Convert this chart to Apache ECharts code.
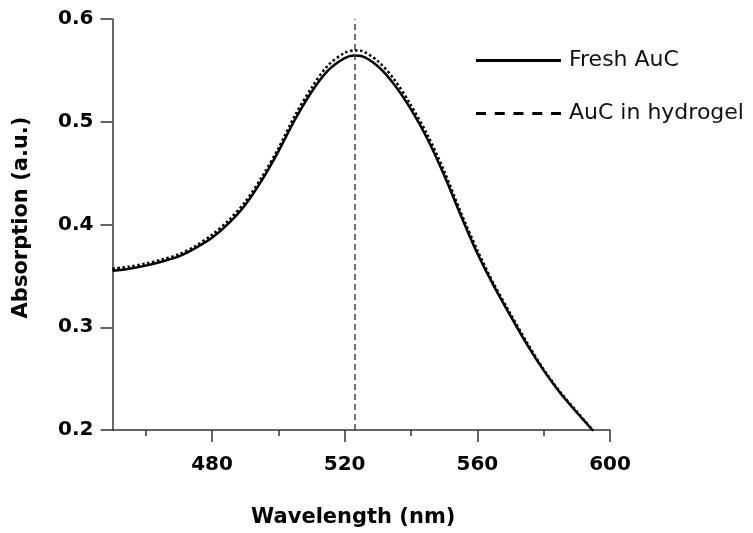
<!DOCTYPE html>
<html>
<head>
<meta charset="utf-8">
<script src="https://cdn.jsdelivr.net/npm/echarts@6/dist/echarts.min.js"></script>
<style>
html,body{margin:0;padding:0;background:#fff;}
#chart{width:753px;height:533px;}
</style>
</head>
<body>
<div id="chart"></div>
<script>
const wavelengths = [450,455,460,465,470,475,480,485,490,495,500,505,510,515,520,523,525,530,535,540,545,550,555,560,565,570,575,580,585,590,595];
const freshAuC = [0.355,0.357,0.360,0.364,0.369,0.377,0.387,0.401,0.419,0.443,0.471,0.502,0.529,0.550,0.562,0.5645,0.564,0.554,0.536,0.512,0.483,0.448,0.409,0.372,0.340,0.311,0.283,0.258,0.236,0.217,0.199];
const auCHydrogel = [0.357,0.359,0.362,0.366,0.371,0.379,0.390,0.404,0.422,0.446,0.474,0.506,0.533,0.555,0.567,0.5695,0.569,0.559,0.541,0.516,0.487,0.452,0.412,0.375,0.342,0.313,0.285,0.259,0.237,0.218,0.199];
const peakWavelength = 523;
const xMajorTicks = [480,520,560,600];
const xMinorTicks = [460,500,540,580];
const seriesNames = ['Fresh AuC','AuC in hydrogel'];

const toPairs = (ys) => wavelengths.map((x,i)=>[x, ys[i]]);
const axisColor = '#333';
const boldFont = 'DejaVu Sans';
const solidIcon = 'path://M0,0h85v3h-85z';
const dashedIcon = 'path://M0,0h10v3h-10z M18.75,0h10v3h-10z M37.5,0h10v3h-10z M56.25,0h10v3h-10z M75,0h10v3h-10z';

const chart = echarts.init(document.getElementById('chart'), null, {renderer:'canvas'});
chart.setOption({
  animation:false,
  backgroundColor:'#fff',
  grid:{left:112.5, right:143, top:19, bottom:101, containLabel:false},
  legend:{
    orient:'vertical', left:471, top:44, itemWidth:85, itemHeight:3, itemGap:30,
    textStyle:{fontFamily:boldFont, fontSize:22, color:'#111', lineHeight:23, padding:[0,0,0,3]},
    data:[
      {name:seriesNames[0], icon:solidIcon, itemStyle:{color:'#000'}},
      {name:seriesNames[1], icon:dashedIcon, itemStyle:{color:'#000'}}
    ]
  },
  xAxis:[{
    type:'value', min:450, max:600, position:'bottom',
    name:'Wavelength (nm)', nameLocation:'middle', nameGap:77,
    nameTextStyle:{fontFamily:boldFont, fontWeight:'bold', fontSize:21, color:'#000', padding:[0,16,0,0]},
    axisLine:{show:true, lineStyle:{color:axisColor, width:1.5}},
    axisTick:{show:true, inside:false, length:12, customValues:xMajorTicks, lineStyle:{color:axisColor, width:1.5}},
    axisLabel:{show:true, customValues:xMajorTicks, margin:25, fontFamily:boldFont, fontWeight:'bold', fontSize:20, color:'#000'},
    splitLine:{show:false}
  },{
    type:'value', min:450, max:600, position:'bottom',
    axisLine:{show:false},
    axisTick:{show:true, inside:false, length:6, customValues:xMinorTicks, lineStyle:{color:axisColor, width:1.5}},
    axisLabel:{show:false},
    splitLine:{show:false}
  }],
  yAxis:{
    type:'value', min:0.2, max:0.6, interval:0.1,
    name:'Absorption (a.u.)', nameLocation:'middle', nameRotate:90, nameGap:80,
    nameTextStyle:{fontFamily:boldFont, fontWeight:'bold', fontSize:21, color:'#000', padding:[0,0,0,14]},
    axisLine:{show:true, lineStyle:{color:axisColor, width:1.5}},
    axisTick:{show:true, inside:false, length:12, lineStyle:{color:axisColor, width:1.5}},
    axisLabel:{margin:19, fontFamily:boldFont, fontWeight:'bold', fontSize:20, color:'#000'},
    splitLine:{show:false}
  },
  series:[{
    name:seriesNames[1], type:'line', xAxisIndex:0, data:toPairs(auCHydrogel), smooth:0.3,
    symbol:'none', itemStyle:{color:'#000'}, lineStyle:{type:[2.5,2.5], width:2.5, color:'#000'}, z:2
  },{
    name:seriesNames[0], type:'line', xAxisIndex:0, data:toPairs(freshAuC), smooth:0.3,
    symbol:'none', itemStyle:{color:'#000'}, lineStyle:{type:'solid', width:2.5, color:'#000'}, z:3,
    markLine:{
      silent:true, symbol:['none','none'], label:{show:false},
      lineStyle:{type:[6,4], width:1.5, color:'#444'},
      data:[{xAxis:peakWavelength}]
    }
  }]
});
</script>
</body>
</html>
